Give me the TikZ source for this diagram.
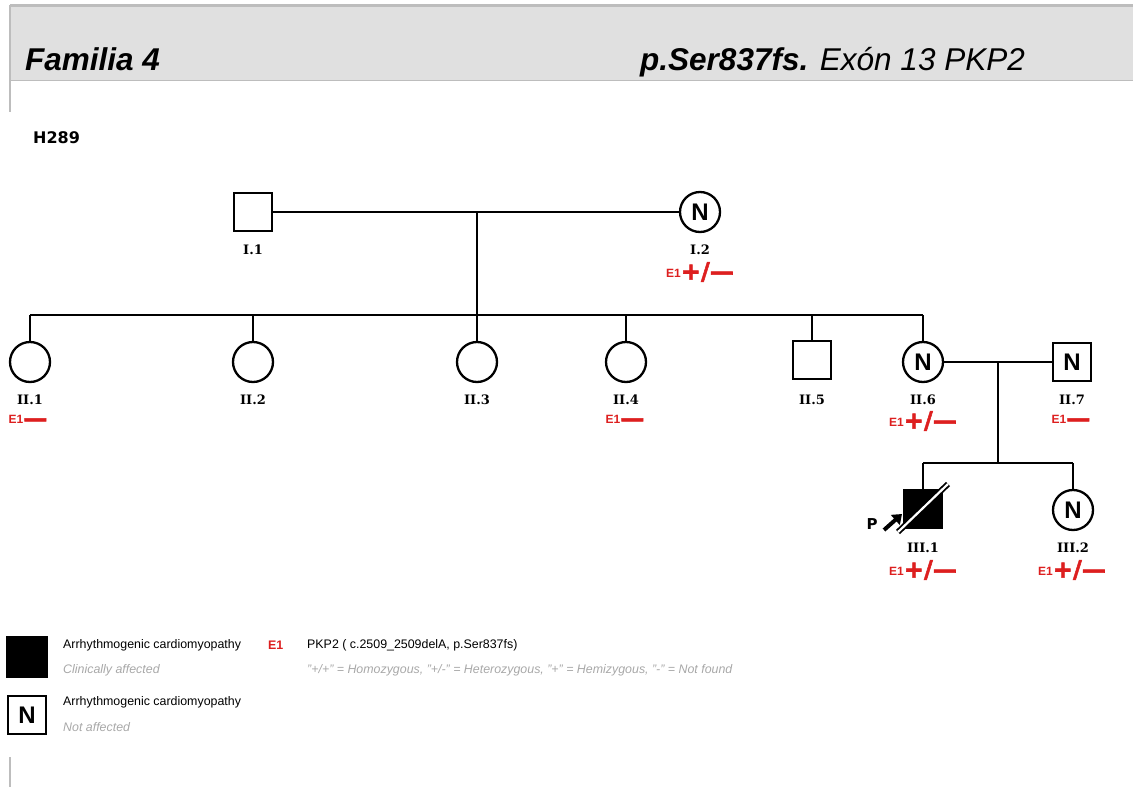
\documentclass[tikz,border=0pt]{standalone}
\usepackage{fontspec}
\setmainfont{Liberation Sans}
\newfontfamily\labfont{DejaVu Serif}
\newfontfamily\symfont{DejaVu Sans}
\newfontfamily\gfont[FakeBold=2.2]{DejaVu Sans Bold}
\usetikzlibrary{arrows.meta}

\definecolor{hdrgray}{HTML}{E0E0E0}
\definecolor{rulegray}{HTML}{BDBDBD}
\definecolor{txtgray}{HTML}{A8A8A8}
\definecolor{gtred}{HTML}{DD1F1F}

\newcommand{\gE}{\raisebox{2.5pt}{\bfseries\fontsize{12}{12}\selectfont E1}}
\newcommand{\gS}[1]{{\gfont\fontsize{24}{24}\selectfont #1}}

\tikzset{
  male/.style={draw, line width=2.3pt, minimum size=38pt, inner sep=0pt,
    font=\bfseries\fontsize{24}{24}\selectfont},
  female/.style={draw, circle, line width=2.3pt, minimum size=40pt, inner sep=0pt,
    font=\bfseries\fontsize{24}{24}\selectfont},
  line/.style={line width=2pt},
  idlabel/.style={font=\labfont\bfseries\fontsize{13}{13}\selectfont, inner sep=0pt},
  gtype/.style={text=gtred, inner sep=0pt},
  keytext/.style={anchor=west, inner sep=0pt, font=\fontsize{12.4}{12}\selectfont},
  keynote/.style={anchor=west, inner sep=0pt, text=txtgray, font=\itshape\fontsize{12.4}{12}\selectfont}
}

\begin{document}
\begin{tikzpicture}[x=1pt,y=-1pt]
\useasboundingbox (0,0) rectangle (1133,787);

% header band
\fill[hdrgray] (10,5) rectangle (1133,80);
\draw[rulegray, line width=3pt] (10,5) -- (1133,5);
\draw[rulegray, line width=1pt] (10,80) -- (1133,80);
\draw[rulegray, line width=2pt] (10,5) -- (10,112);
\draw[rulegray, line width=2pt] (10,757) -- (10,787);
\node[anchor=base west, inner sep=0pt, font=\bfseries\itshape\fontsize{31.5}{32}\selectfont] (fam) at (25,70) {Familia 4};
\node[anchor=base west, inner sep=0pt, font=\itshape\fontsize{31.5}{32}\selectfont] (var) at (640,70) {\bfseries p.Ser837fs.\mdseries{} Exón 13 PKP2};
\node[anchor=base west, inner sep=0pt, font=\symfont\bfseries\fontsize{16}{16}\selectfont] (fid) at (33,143) {H289};

% generation I
\node[male] (I1) at (253,212) {};
\node[female] (I2) at (700,212) {N};
\node[idlabel] (lI1) at (253,250) {I.1};
\node[idlabel] (lI2) at (700,250) {I.2};
\node[gtype] (gI2) at (700,272) {\gE\gS{+/—}};

% generation II
\node[female] (II1) at (30,362) {};
\node[female] (II2) at (253,362) {};
\node[female] (II3) at (477,362) {};
\node[female] (II4) at (626,362) {};
\node[male] (II5) at (812,360) {};
\node[female] (II6) at (923,362) {N};
\node[male] (II7) at (1072,362) {N};
\foreach \k/\x/\t in {II1/30/II.1, II2/253/II.2, II3/477/II.3, II4/626/II.4, II5/812/II.5, II6/923/II.6, II7/1072/II.7}
  \node[idlabel] (l\k) at (\x,400) {\t};
\node[gtype] (gII1) at (28,421) {\gE\gS{—}};
\node[gtype] (gII4) at (625,421) {\gE\gS{—}};
\node[gtype] (gII6) at (923,421) {\gE\gS{+/—}};
\node[gtype] (gII7) at (1071,421) {\gE\gS{—}};

% generation III
\node[male, fill=black] (III1) at (923,509) {};
\node[female] (III2) at (1073,510) {N};
\node[idlabel] (lIII1) at (923,548) {III.1};
\node[idlabel] (lIII2) at (1073,548) {III.2};
\node[gtype] (gIII1) at (923,570) {\gE\gS{+/—}};
\node[gtype] (gIII2) at (1072,570) {\gE\gS{+/—}};
\draw[line width=1.8pt, double=white, double distance=2.2pt] (898,532) -- (948,484);
\coordinate (pa) at (884,530);
\coordinate (pb) at (902,514);
\draw[line width=4pt, -{Triangle[length=9pt,width=13pt]}] (pa) -- (pb);
\node[font=\symfont\bfseries\fontsize{15}{15}\selectfont, inner sep=0pt] (prob) at (872,524) {P};

% connectors
\draw[line] (I1) -- (I2);
\coordinate (m1) at (477,212);
\coordinate (s1) at (477,315);
\draw[line] (m1) -- (s1);
\draw[line] (II1 |- s1) -- (II6 |- s1);
\foreach \k in {II1,II2,II3,II4,II5,II6}
  \draw[line] (\k) -- (\k |- s1);
\draw[line] (II6) -- (II7);
\coordinate (m2) at (998,362);
\coordinate (s2) at (998,463);
\draw[line] (m2) -- (s2);
\draw[line] (III1 |- s2) -- (III2 |- s2);
\foreach \k in {III1,III2}
  \draw[line] (\k) -- (\k |- s2);

% key
\node[male, fill=black, minimum size=40pt] (kA) at (27,657) {};
\node[male, minimum size=38pt] (kN) at (27,715) {N};
\node[keytext] (kAt) at (63,645) {Arrhythmogenic cardiomyopathy};
\node[keynote] (kAn) at (63,670) {Clinically affected};
\node[keytext] (kNt) at (63,702) {Arrhythmogenic cardiomyopathy};
\node[keynote] (kNn) at (63,727) {Not affected};
\node[keytext, text=gtred, font=\bfseries\fontsize{12.4}{12}\selectfont] (kE) at (268,645) {E1};
\node[keytext] (kEt) at (307,645) {PKP2 ( c.2509\_2509delA, p.Ser837fs)};
\node[keynote] (kEn) at (307,670) {"+/+" = Homozygous, "+/-" = Heterozygous, "+" = Hemizygous, "-" = Not found};
\end{tikzpicture}
\end{document}
